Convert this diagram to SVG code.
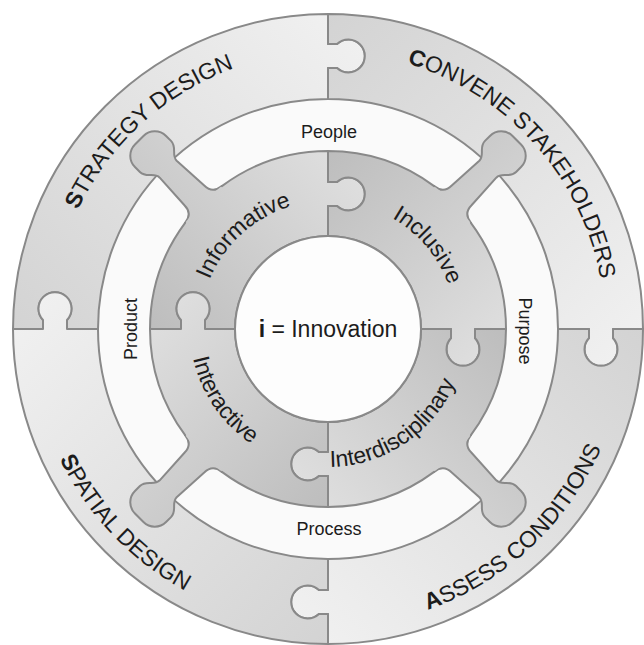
<svg xmlns="http://www.w3.org/2000/svg" width="644" height="645" viewBox="0 0 644 645">
<style>
.ln{stroke:#898989;stroke-width:2;stroke-linejoin:round;stroke-linecap:round}
.nf{fill:none}
.op{fill:url(#gOuter)}
.ip{fill:url(#gInner)}
.arm{fill:url(#gArm)}
.t{font-family:"Liberation Sans",Arial,Helvetica,sans-serif;fill:#1c1c1c;text-anchor:middle}
.ol{font-size:23px}
.il{font-size:23px}
.wl{font-size:18px}
.b{font-weight:bold}
</style>
<defs>
<linearGradient id="gOuter" gradientUnits="userSpaceOnUse" x1="-315" y1="0" x2="0" y2="-315">
<stop offset="0" stop-color="#d3d3d3"/><stop offset="1" stop-color="#f0f0f0"/>
</linearGradient>
<linearGradient id="gInner" gradientUnits="userSpaceOnUse" x1="-178" y1="0" x2="0" y2="-178">
<stop offset="0" stop-color="#bdbdbd"/><stop offset="1" stop-color="#dedede"/>
</linearGradient>
<linearGradient id="gArm" gradientUnits="userSpaceOnUse" x1="-125.9" y1="0" x2="125.9" y2="0">
<stop offset="0" stop-color="#bdbdbd"/><stop offset="1" stop-color="#dedede"/>
</linearGradient>
<path id="outerPiece" d="M -315,0 A 315 315 0 0 1 0,-315 L 0,-285 L 9,-285 A 16.5 16.5 0 1 1 9,-261 L 0,-261 L 0,-230 A 230 230 0 0 0 -230,0 L -261,0 L -261,-9 A 16.5 16.5 0 1 0 -285,-9 L -285,0 Z"/>
<path id="innerFill" d="M -178,0 A 178 178 0 0 1 0,-178 L 0,-147 L 9,-147 A 16.5 16.5 0 1 1 9,-123 L 0,-123 L 0,-93 A 93 93 0 0 0 -93,0 L -123,0 L -123,-9 A 16.5 16.5 0 1 0 -147,-9 L -147,0 Z"/>
<path id="innerLine" d="M -106.13,-142.9 A 178 178 0 0 1 0,-178 L 0,-147 L 9,-147 A 16.5 16.5 0 1 1 9,-123 L 0,-123 L 0,-93 A 93 93 0 0 0 -93,0 L -123,0 L -123,-9 A 16.5 16.5 0 1 0 -147,-9 L -147,0 L -178,0 A 178 178 0 0 1 -142.9,-106.13"/>
<path id="arm" d="M -26,-176.09 Q -14,-177.45 -14,-189 L -12,-226 C -12,-234 -22,-235 -22,-244 L -22,-251 A 16 16 0 0 1 -6,-267 L 6,-267 A 16 16 0 0 1 22,-251 L 22,-244 C 22,-235 12,-234 12,-226 L 14,-189 Q 14,-177.45 26,-176.09 L 0,-150 Z"/>
<path id="arcOT" d="M 55.2,280.9 A 277 277 0 0 1 600.8,280.9"/>
<path id="arcOB" d="M 34.5,380.7 A 298 298 0 0 0 621.5,380.7"/>
<path id="arcIT" d="M 201.9,306.8 A 128 128 0 0 1 454.1,306.8"/>
<path id="arcIB" d="M 192.1,353 A 138 138 0 0 0 463.9,353"/>
</defs>
<rect width="644" height="645" fill="#ffffff"/>
<g id="white-ring">
<circle cx="328" cy="329" r="312" fill="#fafafa"/>
</g>
<g id="strategy-design">
<use href="#outerPiece" class="op ln" transform="translate(328,329)"/>
<text class="t ol" transform="rotate(-42.2 328 329)"><textPath href="#arcOT" startOffset="50%"><tspan class="b">S</tspan>TRATEGY DESIGN</textPath></text>
</g>
<g id="convene-stakeholders">
<use href="#outerPiece" class="op ln" transform="translate(328,329) rotate(90)"/>
<text class="t ol" transform="rotate(48.1 328 329)"><textPath href="#arcOT" startOffset="50%"><tspan class="b">C</tspan>ONVENE STAKEHOLDERS</textPath></text>
</g>
<g id="assess-conditions">
<use href="#outerPiece" class="op ln" transform="translate(328,329) rotate(180)"/>
<text class="t ol" transform="rotate(-43 328 329)"><textPath href="#arcOB" startOffset="50%"><tspan class="b">A</tspan>SSESS CONDITIONS</textPath></text>
</g>
<g id="spatial-design">
<use href="#outerPiece" class="op ln" transform="translate(328,329) rotate(270)"/>
<text class="t ol" transform="rotate(46.4 328 329)"><textPath href="#arcOB" startOffset="50%"><tspan class="b">S</tspan>PATIAL DESIGN</textPath></text>
</g>
<g id="people"><text class="t wl" x="329" y="138">People</text></g>
<g id="purpose"><text class="t wl" transform="translate(519,331) rotate(90)">Purpose</text></g>
<g id="process"><text class="t wl" x="329" y="535">Process</text></g>
<g id="product"><text class="t wl" transform="translate(137,329) rotate(-90)">Product</text></g>
<g id="informative">
<g transform="translate(328,329)">
<use href="#arm" class="arm ln" transform="rotate(-45)"/>
<use href="#innerFill" class="ip"/>
<use href="#innerLine" class="nf ln"/>
</g>
<text class="t il" transform="rotate(-42 328 329)"><textPath href="#arcIT" startOffset="50%">Informative</textPath></text>
</g>
<g id="inclusive">
<g transform="translate(328,329) rotate(90)">
<use href="#arm" class="arm ln" transform="rotate(-45)"/>
<use href="#innerFill" class="ip"/>
<use href="#innerLine" class="nf ln"/>
</g>
<text class="t il" transform="rotate(50 328 329)"><textPath href="#arcIT" startOffset="50%">Inclusive</textPath></text>
</g>
<g id="interdisciplinary">
<g transform="translate(328,329) rotate(180)">
<use href="#arm" class="arm ln" transform="rotate(-45)"/>
<use href="#innerFill" class="ip"/>
<use href="#innerLine" class="nf ln"/>
</g>
<text class="t il" transform="rotate(-34 328 329)"><textPath href="#arcIB" startOffset="50%">Interdisciplinary</textPath></text>
</g>
<g id="interactive">
<g transform="translate(328,329) rotate(270)">
<use href="#arm" class="arm ln" transform="rotate(-45)"/>
<use href="#innerFill" class="ip"/>
<use href="#innerLine" class="nf ln"/>
</g>
<text class="t il" transform="rotate(55.7 328 329)"><textPath href="#arcIB" startOffset="50%">Interactive</textPath></text>
</g>
<g id="innovation">
<circle cx="328" cy="329" r="93" fill="#fdfdfd" class="ln"/>
<text class="t ol" x="328" y="337"><tspan class="b">i</tspan> = Innovation</text>
</g>
</svg>
